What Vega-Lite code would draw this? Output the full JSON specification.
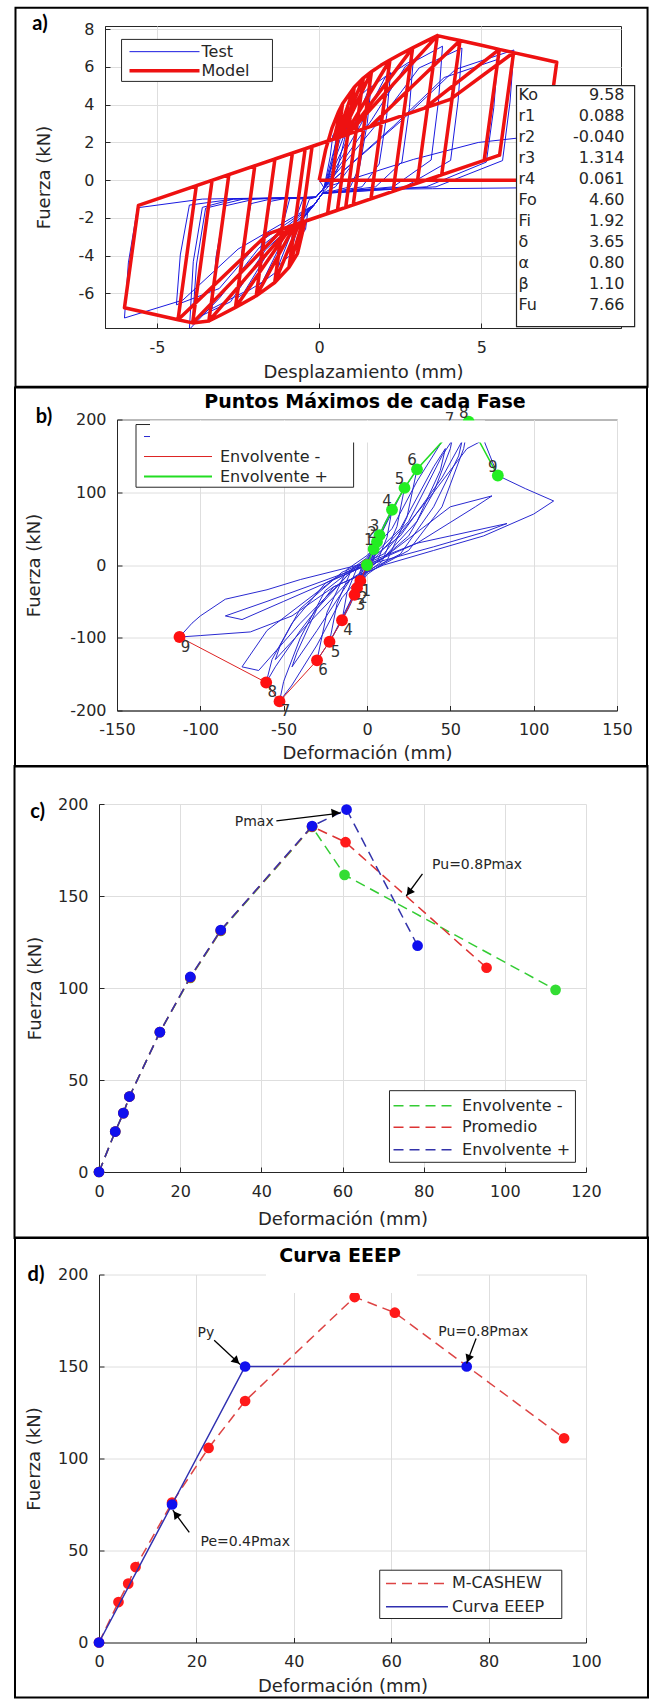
{
  "$schema": "https://vega.github.io/schema/vega-lite/v6.json",
  "background": "white",
  "padding": {"left": 12, "top": 6, "right": 1, "bottom": 1},
  "spacing": -3.5,
  "bounds": "full",
  "config": {
    "font": "DejaVu Sans",
    "view": {"stroke": null},
    "axis": {"labelFont": "DejaVu Sans", "titleFont": "DejaVu Sans", "labelFontSize": 16, "titleFontSize": 18, "titleFontWeight": "normal", "labelColor": "#262626", "titleColor": "#262626", "domainColor": "#262626", "tickColor": "#262626", "gridColor": "#dedede", "tickSize": -5, "labelPadding": 16, "labelFlush": false, "labelOverlap": false, "labelBound": false, "grid": true},
    "text": {"font": "DejaVu Sans"}
  },
  "datasets": {
    "a_test": [
      {"x":0,"y":0},
      {"x":0.15,"y":-0.4},{"x":0.34,"y":1.26},{"x":0.42,"y":2.38},{"x":0.6,"y":2.8},{"x":0.48,"y":1.68},{"x":0.3,"y":0.2},{"x":0.1,"y":-0.7},{"x":-0.15,"y":-1.3},{"x":-0.34,"y":-1.5},{"x":-0.42,"y":-2.61},{"x":-0.6,"y":-3.0},{"x":-0.48,"y":-1.8},{"x":-0.3,"y":-1.0},{"x":-0.1,"y":-0.9},
      {"x":0.15,"y":-0.4},{"x":0.46,"y":1.62},{"x":0.63,"y":3.06},{"x":0.9,"y":3.6},{"x":0.78,"y":2.16},{"x":0.55,"y":0.54},{"x":0.3,"y":-0.3},{"x":0.1,"y":-0.7},{"x":-0.15,"y":-1.3},{"x":-0.46,"y":-1.9},{"x":-0.63,"y":-3.31},{"x":-0.9,"y":-3.8},{"x":-0.78,"y":-2.28},{"x":-0.5,"y":-1.0},{"x":-0.1,"y":-0.9},
      {"x":0.15,"y":-0.4},{"x":0.62,"y":2.03},{"x":0.91,"y":3.83},{"x":1.3,"y":4.5},{"x":1.18,"y":2.7},{"x":0.95,"y":0.68},{"x":0.5,"y":-0.35},{"x":0.1,"y":-0.7},{"x":-0.15,"y":-1.3},{"x":-0.62,"y":-2.3},{"x":-0.91,"y":-4.0},{"x":-1.3,"y":-4.6},{"x":-1.18,"y":-2.76},{"x":-0.9,"y":-0.92},{"x":-0.6,"y":-1.0},{"x":-0.1,"y":-0.9},
      {"x":0.15,"y":-0.4},{"x":0.74,"y":2.25},{"x":1.12,"y":4.25},{"x":1.6,"y":5.0},{"x":1.48,"y":3.0},{"x":1.25,"y":0.75},{"x":0.96,"y":-0.35},{"x":0.1,"y":-0.7},{"x":-0.15,"y":-1.3},{"x":-0.86,"y":-2.8},{"x":-1.33,"y":-4.87},{"x":-1.9,"y":-5.6},{"x":-1.78,"y":-3.36},{"x":-1.5,"y":-1.12},{"x":-1.14,"y":-1.0},{"x":-0.1,"y":-0.9},
      {"x":0.15,"y":-0.4},{"x":0.98,"y":2.57},{"x":1.54,"y":4.85},{"x":2.2,"y":5.7},{"x":2.08,"y":3.42},{"x":1.85,"y":0.86},{"x":1.32,"y":-0.35},{"x":0.1,"y":-0.7},{"x":-0.15,"y":-1.3},{"x":-1.1,"y":-3.1},{"x":-1.75,"y":-5.39},{"x":-2.5,"y":-6.2},{"x":-2.38,"y":-3.72},{"x":-2.1,"y":-1.24},{"x":-1.5,"y":-1.0},{"x":-0.1,"y":-0.9},
      {"x":0.15,"y":-0.4},{"x":1.26,"y":2.88},{"x":2.03,"y":5.44},{"x":2.9,"y":6.4},{"x":2.78,"y":3.84},{"x":2.55,"y":0.96},{"x":1.74,"y":-0.35},{"x":0.1,"y":-0.7},{"x":-0.15,"y":-1.3},{"x":-1.42,"y":-3.4},{"x":-2.31,"y":-5.92},{"x":-3.3,"y":-6.8},{"x":-3.18,"y":-4.08},{"x":-2.9,"y":-1.36},{"x":-1.98,"y":-1.0},{"x":-0.1,"y":-0.9},
      {"x":0.15,"y":-0.4},{"x":1.62,"y":3.2},{"x":2.66,"y":6.04},{"x":3.8,"y":7.1},{"x":3.68,"y":4.26},{"x":3.45,"y":1.07},{"x":2.28,"y":-0.35},{"x":0.1,"y":-0.7},{"x":-0.15,"y":-1.3},{"x":-1.66,"y":-3.7},{"x":-2.73,"y":-6.44},{"x":-3.9,"y":-7.4},{"x":-3.78,"y":-4.44},{"x":-3.5,"y":-1.48},{"x":-2.34,"y":-1.0},{"x":-0.1,"y":-0.9},
      {"x":0.15,"y":-0.4},{"x":1.86,"y":3.15},{"x":3.08,"y":5.95},{"x":4.4,"y":7.0},{"x":4.28,"y":4.2},{"x":4.05,"y":1.05},{"x":2.64,"y":-0.35},{"x":0.1,"y":-0.7},{"x":-0.15,"y":-1.3},{"x":-1.86,"y":-3.6},{"x":-3.08,"y":-6.26},{"x":-4.0,"y":-7.9},{"x":-3.88,"y":-4.32},{"x":-3.6,"y":-1.44},{"x":-2.64,"y":-1.0},{"x":-0.1,"y":-0.9},
      {"x":0.15,"y":-0.4},{"x":2.3,"y":2.88},{"x":3.85,"y":5.44},{"x":5.5,"y":6.4},{"x":5.38,"y":3.84},{"x":5.15,"y":0.96},{"x":3.3,"y":-0.35},{"x":0.1,"y":-0.7},{"x":-0.15,"y":-1.3},{"x":-1.86,"y":-3.3},{"x":-3.08,"y":-5.74},{"x":-4.4,"y":-6.6},{"x":-4.28,"y":-3.96},{"x":-4.0,"y":-1.32},{"x":-2.64,"y":-1.0},{"x":-0.1,"y":-0.9},
      {"x":0.15,"y":-0.4},{"x":2.5,"y":3.1},{"x":4.2,"y":5.87},{"x":6.0,"y":6.9},{"x":5.88,"y":4.14},{"x":5.65,"y":1.04},{"x":3.6,"y":-0.35},{"x":0.1,"y":-0.7},{"x":-0.15,"y":-1.3},{"x":-2.5,"y":-3.65},{"x":-4.2,"y":-6.35},{"x":-6.0,"y":-7.3},{"x":-5.88,"y":-4.38},{"x":-5.6,"y":-1.46},{"x":-3.6,"y":-1.0},{"x":-0.1,"y":-0.9},
      {"x":0.15,"y":-0.4},{"x":2.9,"y":1.1},{"x":4.9,"y":2.0},{"x":7.0,"y":2.4},{"x":6.9,"y":0.8},{"x":6.6,"y":-0.4},{"x":3.5,"y":-0.45},{"x":1.0,"y":-0.5}
    ],
    "a_model": [
      {"x":0,"y":0},{"x":0.2,"y":1.62},{"x":0.4,"y":2.79},{"x":0.6,"y":3.64},{"x":0.72,"y":4.05},
      {"x":0.258,"y":-1.77},{"x":-0.436,"y":-2.175},{"x":-0.67,"y":-3.89},{"x":-0.219,"y":1.79},
      {"x":0.451,"y":2.18},{"x":0.72,"y":4.05},{"x":1.08,"y":4.93},{"x":0.562,"y":-1.592},{"x":-0.436,"y":-2.175},{"x":-0.67,"y":-3.89},{"x":-0.93,"y":-4.61},{"x":-0.431,"y":1.668},
      {"x":0.543,"y":2.237},{"x":1.08,"y":4.93},{"x":1.36,"y":5.41},{"x":0.816,"y":-1.444},{"x":-0.505,"y":-2.215},{"x":-0.93,"y":-4.61},{"x":-1.37,"y":-5.42},{"x":-0.825,"y":1.438},
      {"x":0.606,"y":2.274},{"x":1.36,"y":5.41},{"x":1.61,"y":5.75},{"x":1.049,"y":-1.307},{"x":-0.611,"y":-2.277},{"x":-1.37,"y":-5.42},{"x":-1.94,"y":-6.125},{"x":-1.364,"y":1.123},
      {"x":0.664,"y":2.308},{"x":1.61,"y":5.75},{"x":1.9,"y":6.085},{"x":2.18,"y":6.37},{"x":1.596,"y":-0.988},{"x":-0.738,"y":-2.351},{"x":-1.94,"y":-6.125},{"x":-2.58,"y":-6.74},{"x":-1.984,"y":0.761},
      {"x":0.784,"y":2.378},{"x":2.18,"y":6.37},{"x":2.5,"y":6.67},{"x":2.88,"y":7.01},{"x":2.276,"y":-0.591},{"x":-0.851,"y":-2.417},{"x":-2.58,"y":-6.74},{"x":-3.0,"y":-7.115},{"x":-3.4,"y":-7.46},{"x":-2.784,"y":0.294},
      {"x":0.882,"y":2.435},{"x":2.88,"y":7.01},{"x":3.25,"y":7.33},{"x":3.64,"y":7.66},{"x":3.019,"y":-0.157},{"x":-0.89,"y":-2.44},{"x":-3.4,"y":-7.46},{"x":-3.9,"y":-7.56},{"x":-3.3,"y":-0.007},
      {"x":0.883,"y":2.436},{"x":3.64,"y":7.66},{"x":4.0,"y":7.52},{"x":4.34,"y":7.4},{"x":3.775,"y":0.285},{"x":-1.112,"y":-2.569},{"x":-3.9,"y":-7.56},{"x":-4.35,"y":-7.39},{"x":-3.786,"y":-0.291},
      {"x":1.567,"y":2.835},{"x":4.34,"y":7.4},{"x":5.0,"y":7.15},{"x":5.55,"y":6.93},{"x":5.083,"y":1.048},{"x":-1.584,"y":-2.845},{"x":-4.35,"y":-7.39},{"x":-3.786,"y":-0.291},
      {"x":3.247,"y":3.816},{"x":5.55,"y":6.93},{"x":5.99,"y":6.76},{"x":5.558,"y":1.326},{"x":-1.584,"y":-2.845},{"x":-4.35,"y":-7.39},{"x":-5.0,"y":-7.14},{"x":-6.0,"y":-6.76},{"x":-5.569,"y":-1.332},
      {"x":4.039,"y":4.279},{"x":5.99,"y":6.76},{"x":6.6,"y":6.53},{"x":7.32,"y":6.25},{"x":6.824,"y":0},{"x":0,"y":0}
    ],
    "a_params": [
      {"lab":["Ko","r1","r2","r3","r4","Fo","Fi","δ","α","β","Fu"],"val":["9.58","0.088","-0.040","1.314","0.061","4.60","1.92","3.65","0.80","1.10","7.66"]}
    ],
    "b_test": [
      {"x":0,"y":0},
      {"x":1.2,"y":7.7},{"x":2.8,"y":16.5},{"x":4,"y":22},{"x":3.2,"y":11},{"x":1.6,"y":1.1},{"x":0,"y":-2.2},{"x":-1.2,"y":-7.7},{"x":-2.8,"y":-16.5},{"x":-4,"y":-22},{"x":-3.2,"y":-11},{"x":-1.6,"y":-1.1},{"x":0,"y":2.2},
      {"x":1.8,"y":11},{"x":4.2,"y":24},{"x":6,"y":32},{"x":4.8,"y":16},{"x":2.4,"y":1.6},{"x":0,"y":-3.2},{"x":-1.8,"y":-11},{"x":-4.2,"y":-24},{"x":-6,"y":-32},{"x":-4.8,"y":-16},{"x":-2.4,"y":-1.6},{"x":0,"y":3.2},
      {"x":2.2,"y":14},{"x":5.2,"y":31},{"x":7.5,"y":41},{"x":6,"y":20},{"x":3,"y":2},{"x":0,"y":-4},{"x":-2.2,"y":-14},{"x":-5.2,"y":-31},{"x":-7.5,"y":-41},{"x":-6,"y":-20},{"x":-3,"y":-2},{"x":0,"y":4},
      {"x":4.5,"y":26},{"x":10.5,"y":57},{"x":15,"y":76},{"x":12,"y":38},{"x":6,"y":4},{"x":0,"y":-7},{"x":-4.5,"y":-26},{"x":-10.5,"y":-57},{"x":-15,"y":-76},{"x":-12,"y":-38},{"x":-6,"y":-4},{"x":0,"y":7},
      {"x":7,"y":36},{"x":16,"y":80},{"x":22.5,"y":106},{"x":18,"y":53},{"x":9,"y":5},{"x":0,"y":-10},{"x":-7,"y":-36},{"x":-16,"y":-80},{"x":-22.5,"y":-105.5},{"x":-18,"y":-53},{"x":-9,"y":-5},{"x":0,"y":10},
      {"x":9,"y":45},{"x":21,"y":100},{"x":30,"y":131.5},{"x":24,"y":66},{"x":12,"y":6},{"x":0,"y":-13},{"x":-9,"y":-45},{"x":-21,"y":-100},{"x":-30,"y":-131},{"x":-24,"y":-65},{"x":-12,"y":-6},{"x":0,"y":13},
      {"x":15,"y":50},{"x":30,"y":115},{"x":45,"y":170},{"x":52.5,"y":188},{"x":50,"y":160},{"x":40,"y":100},{"x":25,"y":40},{"x":10,"y":10},{"x":0,"y":-5},{"x":-15,"y":-45},{"x":-30,"y":-110},{"x":-45,"y":-165},{"x":-52.5,"y":-187.5},{"x":-50,"y":-160},{"x":-40,"y":-100},{"x":-25,"y":-35},{"x":-10,"y":-8},{"x":0,"y":5},
      {"x":20,"y":50},{"x":40,"y":135},{"x":47,"y":160},{"x":44,"y":130},{"x":30,"y":60},{"x":10,"y":10},{"x":-10,"y":-20},{"x":-30,"y":-90},{"x":-45,"y":-140},{"x":-42,"y":-120},{"x":-30,"y":-60},{"x":-10,"y":-10},{"x":5,"y":10},
      {"x":25,"y":60},{"x":45,"y":150},{"x":55,"y":185},{"x":61,"y":197},{"x":58,"y":160},{"x":45,"y":80},{"x":25,"y":20},{"x":5,"y":-5},{"x":-20,"y":-30},{"x":-40,"y":-90},{"x":-55,"y":-140},{"x":-60.5,"y":-161.5},{"x":-57,"y":-130},{"x":-45,"y":-80},{"x":-25,"y":-25},{"x":0,"y":5},
      {"x":20,"y":40},{"x":45,"y":120},{"x":57,"y":170},{"x":55,"y":150},{"x":40,"y":80},{"x":20,"y":15},{"x":-10,"y":-20},{"x":-35,"y":-80},{"x":-55,"y":-130},{"x":-52,"y":-110},{"x":-40,"y":-60},{"x":-15,"y":-10},{"x":10,"y":15},
      {"x":40,"y":100},{"x":60,"y":160},{"x":70,"y":172},{"x":78.5,"y":123},{"x":95,"y":105},{"x":112,"y":88},{"x":100,"y":70},{"x":70,"y":40},{"x":40,"y":20},{"x":10,"y":0},{"x":-20,"y":-30},{"x":-45,"y":-70},{"x":-70,"y":-92},{"x":-100,"y":-97},{"x":-112.5,"y":-99},{"x":-105,"y":-80},{"x":-100,"y":-70},{"x":-85,"y":-47},{"x":-60,"y":-34},{"x":-40,"y":-20},{"x":0,"y":3},
      {"x":30,"y":30},{"x":60,"y":45},{"x":84,"y":57},{"x":70,"y":45},{"x":40,"y":25},{"x":0,"y":0},{"x":-30,"y":-25},{"x":-60,"y":-50},{"x":-85,"y":-70},{"x":-75,"y":-75},{"x":-50,"y":-50},{"x":-20,"y":-20},{"x":10,"y":10},
      {"x":50,"y":80},{"x":75,"y":95},{"x":65,"y":80},{"x":30,"y":30},{"x":-20,"y":-20},{"x":-60,"y":-90},{"x":-75,"y":-140},{"x":-65,"y":-145},{"x":-40,"y":-80},{"x":-10,"y":-10},{"x":0,"y":0}
    ],
    "b_envp": [
      {"x":0,"y":0,"n":""},{"x":4,"y":22,"n":"1"},{"x":6,"y":32,"n":"2"},{"x":7.5,"y":41,"n":"3"},{"x":15,"y":76,"n":"4"},{"x":22.5,"y":106,"n":"5"},{"x":30,"y":131.5,"n":"6"},{"x":52.5,"y":188,"n":"7"},{"x":61,"y":197,"n":"8"},{"x":78.5,"y":123,"n":"9"}
    ],
    "b_envm": [
      {"x":0,"y":0,"n":""},{"x":-4,"y":-22,"n":"1"},{"x":-6,"y":-32,"n":"2"},{"x":-7.5,"y":-41,"n":"3"},{"x":-15,"y":-76,"n":"4"},{"x":-22.5,"y":-105.5,"n":"5"},{"x":-30,"y":-131,"n":"6"},{"x":-52.5,"y":-187.5,"n":"7"},{"x":-60.5,"y":-161.5,"n":"8"},{"x":-112.5,"y":-99,"n":"9"}
    ],
    "c_envm": [
      {"x":0,"y":0},{"x":4,"y":22},{"x":6,"y":32},{"x":7.5,"y":41},{"x":15,"y":76},{"x":22.5,"y":105.5},{"x":30,"y":131},{"x":52.5,"y":187.5},{"x":60.5,"y":161.5},{"x":112.5,"y":99}
    ],
    "c_prom": [
      {"x":0,"y":0},{"x":4,"y":22},{"x":6,"y":32},{"x":7.5,"y":41},{"x":15,"y":76},{"x":22.5,"y":105.75},{"x":30,"y":131.25},{"x":52.5,"y":187.75},{"x":60.75,"y":179.25},{"x":95.5,"y":111}
    ],
    "c_envp": [
      {"x":0,"y":0},{"x":4,"y":22},{"x":6,"y":32},{"x":7.5,"y":41},{"x":15,"y":76},{"x":22.5,"y":106},{"x":30,"y":131.5},{"x":52.5,"y":188},{"x":61,"y":197},{"x":78.5,"y":123}
    ],
    "d_mc": [
      {"x":0,"y":0},{"x":4,"y":22},{"x":6,"y":32},{"x":7.5,"y":41},{"x":15,"y":76},{"x":22.5,"y":105.75},{"x":30,"y":131.25},{"x":52.5,"y":187.75},{"x":60.75,"y":179.25},{"x":95.5,"y":111}
    ],
    "d_eeep": [
      {"x":0,"y":0},{"x":15,"y":75},{"x":30,"y":150},{"x":75.5,"y":150}
    ]
  },
  "vconcat": [
    {"spacing": 0, "hconcat": [
      {"width": 1, "height": 1, "data": {"values": []}, "mark": "point", "encoding": {}},
      {
      "width": 516,
      "height": 302,
      "view": {"stroke": "#262626"},
      "layer": [
        {"data": {"name": "a_test"}, "mark": {"type": "line", "color": "#1a1ae0", "strokeWidth": 1, "clip": true},
         "encoding": {
           "x": {"field": "x", "type": "quantitative", "scale": {"domain": [-6.6, 9.3], "domainRaw": {"expr": "[-6.6, 9.3]"}, "nice": false, "zero": false}, "axis": {"title": "Desplazamiento (mm)", "values": [-5, 0, 5], "labelExpr": "''+datum.value", "titlePadding": 8}},
           "y": {"field": "y", "type": "quantitative", "scale": {"domain": [-7.83, 8.17], "domainRaw": {"expr": "[-7.83, 8.17]"}, "nice": false, "zero": false}, "axis": {"title": "Fuerza (kN)", "values": [-6, -4, -2, 0, 2, 4, 6, 8], "labelExpr": "''+datum.value", "titlePadding": 25}},
           "order": {"value": null}}},
        {"data": {"name": "a_model"}, "mark": {"type": "line", "color": "#ee1111", "strokeWidth": 3.5, "strokeJoin": "round", "clip": true},
         "encoding": {"x": {"field": "x", "type": "quantitative"}, "y": {"field": "y", "type": "quantitative"}, "order": {"value": null}}},
        {"data": {"values": [{}]}, "mark": {"type": "rect", "fill": "white", "stroke": "#262626", "strokeWidth": 1},
         "encoding": {"x": {"datum": -6.09}, "x2": {"datum": -1.44}, "y": {"datum": 7.46}, "y2": {"datum": 5.235}}},
        {"data": {"values": [{}]}, "mark": {"type": "rule", "color": "#1a1ae0", "strokeWidth": 1},
         "encoding": {"x": {"datum": -5.845}, "x2": {"datum": -3.688}, "y": {"datum": 6.81}}},
        {"data": {"values": [{}]}, "mark": {"type": "rule", "color": "#ee1111", "strokeWidth": 3.5},
         "encoding": {"x": {"datum": -5.845}, "x2": {"datum": -3.688}, "y": {"datum": 5.8}}},
        {"data": {"values": [{"t": "Test"}]}, "mark": {"type": "text", "align": "left", "baseline": "middle", "fontSize": 16, "color": "#262626"},
         "encoding": {"x": {"datum": -3.626}, "y": {"datum": 6.81}, "text": {"field": "t"}}},
        {"data": {"values": [{"t": "Model"}]}, "mark": {"type": "text", "align": "left", "baseline": "middle", "fontSize": 16, "color": "#262626"},
         "encoding": {"x": {"datum": -3.626}, "y": {"datum": 5.8}, "text": {"field": "t"}}},
        {"data": {"values": [{}]}, "mark": {"type": "rect", "fill": "white", "stroke": "#262626", "strokeWidth": 1.2},
         "encoding": {"x": {"datum": 6.08}, "x2": {"datum": 9.72}, "y": {"datum": 5.007}, "y2": {"datum": -7.76}}},
        {"data": {"name": "a_params"}, "mark": {"type": "text", "align": "left", "baseline": "alphabetic", "fontSize": 16, "lineHeight": 21, "color": "#262626"},
         "encoding": {"x": {"datum": 6.14}, "y": {"datum": 4.228}, "text": {"field": "lab", "type": "nominal"}}},
        {"data": {"name": "a_params"}, "mark": {"type": "text", "align": "right", "baseline": "alphabetic", "fontSize": 16, "lineHeight": 21, "color": "#262626"},
         "encoding": {"x": {"datum": 9.409}, "y": {"datum": 4.228}, "text": {"field": "val", "type": "nominal"}}},
        {"data": {"values": [{"t": "a)"}]}, "mark": {"type": "text", "align": "center", "baseline": "middle", "fontSize": 20, "font": "Lato", "fontWeight": "bold", "color": "#000"},
         "encoding": {"x": {"datum": -8.603}, "y": {"datum": 8.29}, "text": {"field": "t"}}},
        {"data": {"values": [{}]}, "mark": {"type": "rect", "filled": false, "stroke": "#000", "strokeWidth": 2},
         "encoding": {"x": {"datum": -9.358}, "x2": {"datum": 10.118}, "y": {"datum": 9.14}, "y2": {"datum": -10.94}}}
      ]
    }]},
    {"spacing": 0, "hconcat": [
      {"width": 1, "height": 1, "data": {"values": []}, "mark": "point", "encoding": {}},
      {
      "width": 500,
      "height": 291,
      "view": {"stroke": "#262626"},
      "layer": [
        {"data": {"name": "b_test"}, "mark": {"type": "line", "color": "#2a2ad0", "strokeWidth": 1, "clip": true},
         "encoding": {
           "x": {"field": "x", "type": "quantitative", "scale": {"domain": [-150, 150], "domainRaw": {"expr": "[-150, 150]"}, "nice": false, "zero": false}, "axis": {"title": "Deformación (mm)", "values": [-150, -100, -50, 0, 50, 100, 150], "labelExpr": "''+datum.value", "titlePadding": 7}},
           "y": {"field": "y", "type": "quantitative", "scale": {"domain": [-200, 200], "domainRaw": {"expr": "[-200, 200]"}, "nice": false, "zero": false}, "axis": {"title": "Fuerza (kN)", "values": [-200, -150, -100, -50, 0, 50, 100, 150, 200], "labelExpr": "''+datum.value", "titlePadding": 26}},
           "order": {"value": null}}},
        {"data": {"name": "b_envm"}, "mark": {"type": "line", "color": "#dd2222", "strokeWidth": 1},
         "encoding": {"x": {"field": "x", "type": "quantitative"}, "y": {"field": "y", "type": "quantitative"}, "order": {"value": null}}},
        {"data": {"name": "b_envp"}, "mark": {"type": "line", "color": "#22dd22", "strokeWidth": 1.5},
         "encoding": {"x": {"field": "x", "type": "quantitative"}, "y": {"field": "y", "type": "quantitative"}, "order": {"value": null}}},
        {"data": {"name": "b_envm"}, "mark": {"type": "circle", "color": "#ff1010", "size": 140, "opacity": 1},
         "encoding": {"x": {"field": "x", "type": "quantitative"}, "y": {"field": "y", "type": "quantitative"}}},
        {"data": {"name": "b_envp"}, "mark": {"type": "circle", "color": "#22ee22", "size": 140, "opacity": 1},
         "encoding": {"x": {"field": "x", "type": "quantitative"}, "y": {"field": "y", "type": "quantitative"}}},
        {"data": {"name": "b_envm"}, "mark": {"type": "text", "dx": 6, "dy": 10, "fontSize": 15, "color": "#333333"},
         "encoding": {"x": {"field": "x", "type": "quantitative"}, "y": {"field": "y", "type": "quantitative"}, "text": {"field": "n"}}},
        {"data": {"name": "b_envp"}, "mark": {"type": "text", "dx": -5, "dy": -9, "fontSize": 15, "color": "#333333"},
         "encoding": {"x": {"field": "x", "type": "quantitative"}, "y": {"field": "y", "type": "quantitative"}, "text": {"field": "n"}}},
        {"data": {"values": [{}]}, "mark": {"type": "rect", "fill": "white", "stroke": "#262626", "strokeWidth": 1},
         "encoding": {"x": {"datum": -138.6}, "x2": {"datum": -8.04}, "y": {"datum": 193.1}, "y2": {"datum": 106.9}}},
        {"data": {"values": [{}]}, "mark": {"type": "rule", "color": "#2a2ad0", "strokeWidth": 1},
         "encoding": {"x": {"datum": -133.8}, "x2": {"datum": -93}, "y": {"datum": 176.6}}},
        {"data": {"values": [{}]}, "mark": {"type": "rule", "color": "#dd2222", "strokeWidth": 1},
         "encoding": {"x": {"datum": -133.8}, "x2": {"datum": -93}, "y": {"datum": 149.1}}},
        {"data": {"values": [{}]}, "mark": {"type": "rule", "color": "#22dd22", "strokeWidth": 2},
         "encoding": {"x": {"datum": -133.8}, "x2": {"datum": -93}, "y": {"datum": 121.6}}},
        {"data": {"values": [{"t": "Envolvente -"}]}, "mark": {"type": "text", "align": "left", "baseline": "middle", "fontSize": 16, "color": "#262626"},
         "encoding": {"x": {"datum": -88.2}, "y": {"datum": 149.1}, "text": {"field": "t"}}},
        {"data": {"values": [{"t": "Envolvente +"}]}, "mark": {"type": "text", "align": "left", "baseline": "middle", "fontSize": 16, "color": "#262626"},
         "encoding": {"x": {"datum": -88.2}, "y": {"datum": 121.6}, "text": {"field": "t"}}},
        {"data": {"values": [{}]}, "mark": {"type": "rect", "fill": "white", "stroke": null},
         "encoding": {"x": {"datum": -130.2}, "x2": {"datum": 70.8}, "y": {"datum": 198.6}, "y2": {"datum": 168.4}}},
        {"data": {"values": [{"t": "Puntos Máximos de cada Fase"}]}, "mark": {"type": "text", "align": "center", "baseline": "middle", "fontSize": 19, "fontWeight": "bold", "color": "#000"},
         "encoding": {"x": {"datum": -1.2}, "y": {"datum": 223.4}, "text": {"field": "t"}}},
        {"data": {"values": [{"t": "b)"}]}, "mark": {"type": "text", "align": "center", "baseline": "middle", "fontSize": 20, "font": "Lato", "fontWeight": "bold", "color": "#000"},
         "encoding": {"x": {"datum": -193.8}, "y": {"datum": 204.1}, "text": {"field": "t"}}},
        {"data": {"values": [{}]}, "mark": {"type": "rect", "filled": false, "stroke": "#000", "strokeWidth": 2},
         "encoding": {"x": {"datum": -211.2}, "x2": {"datum": 168}, "y": {"datum": 244}, "y2": {"datum": -277}}}
      ]
    }]},
    {"spacing": 0, "hconcat": [
      {"width": 1, "height": 1, "data": {"values": []}, "mark": "point", "encoding": {}},
      {
      "width": 487,
      "height": 368,
      "layer": [
        {"data": {"name": "c_envm"}, "mark": {"type": "line", "color": "#33cc33", "strokeWidth": 1.5, "strokeDash": [10, 6]},
         "encoding": {
           "x": {"field": "x", "type": "quantitative", "scale": {"domain": [0, 120], "domainRaw": {"expr": "[0, 120]"}, "nice": false, "zero": false}, "axis": {"title": "Deformación (mm)", "values": [0, 20, 40, 60, 80, 100, 120], "titlePadding": 11}},
           "y": {"field": "y", "type": "quantitative", "scale": {"domain": [0, 200], "domainRaw": {"expr": "[0, 200]"}, "nice": false, "zero": false}, "axis": {"title": "Fuerza (kN)", "values": [0, 50, 100, 150, 200], "titlePadding": 13}},
           "order": {"value": null}}},
        {"data": {"name": "c_envm"}, "mark": {"type": "circle", "color": "#33dd33", "size": 115, "opacity": 1},
         "encoding": {"x": {"field": "x", "type": "quantitative"}, "y": {"field": "y", "type": "quantitative"}}},
        {"data": {"name": "c_prom"}, "mark": {"type": "line", "color": "#dd3333", "strokeWidth": 1.5, "strokeDash": [10, 6]},
         "encoding": {"x": {"field": "x", "type": "quantitative"}, "y": {"field": "y", "type": "quantitative"}, "order": {"value": null}}},
        {"data": {"name": "c_prom"}, "mark": {"type": "circle", "color": "#ff1a1a", "size": 115, "opacity": 1},
         "encoding": {"x": {"field": "x", "type": "quantitative"}, "y": {"field": "y", "type": "quantitative"}}},
        {"data": {"name": "c_envp"}, "mark": {"type": "line", "color": "#3333aa", "strokeWidth": 1.5, "strokeDash": [10, 6]},
         "encoding": {"x": {"field": "x", "type": "quantitative"}, "y": {"field": "y", "type": "quantitative"}, "order": {"value": null}}},
        {"data": {"name": "c_envp"}, "mark": {"type": "circle", "color": "#1010ee", "size": 115, "opacity": 1},
         "encoding": {"x": {"field": "x", "type": "quantitative"}, "y": {"field": "y", "type": "quantitative"}}},
        {"data": {"values": [{}]}, "mark": {"type": "rect", "fill": "white", "stroke": "#262626", "strokeWidth": 1},
         "encoding": {"x": {"datum": 71.58}, "x2": {"datum": 117.4}, "y": {"datum": 44.2}, "y2": {"datum": 5.27}}},
        {"data": {"values": [{}]}, "mark": {"type": "rule", "color": "#33cc33", "strokeWidth": 1.5, "strokeDash": [10, 6]},
         "encoding": {"x": {"datum": 72.57}, "x2": {"datum": 87.85}, "y": {"datum": 36.03}}},
        {"data": {"values": [{}]}, "mark": {"type": "rule", "color": "#dd3333", "strokeWidth": 1.5, "strokeDash": [10, 6]},
         "encoding": {"x": {"datum": 72.57}, "x2": {"datum": 87.85}, "y": {"datum": 24.29}}},
        {"data": {"values": [{}]}, "mark": {"type": "rule", "color": "#3333aa", "strokeWidth": 1.5, "strokeDash": [10, 6]},
         "encoding": {"x": {"datum": 72.57}, "x2": {"datum": 87.85}, "y": {"datum": 12.12}}},
        {"data": {"values": [{"t": "Envolvente -"}]}, "mark": {"type": "text", "align": "left", "baseline": "middle", "fontSize": 16, "color": "#262626"},
         "encoding": {"x": {"datum": 89.45}, "y": {"datum": 36.03}, "text": {"field": "t"}}},
        {"data": {"values": [{"t": "Promedio"}]}, "mark": {"type": "text", "align": "left", "baseline": "middle", "fontSize": 16, "color": "#262626"},
         "encoding": {"x": {"datum": 89.45}, "y": {"datum": 24.29}, "text": {"field": "t"}}},
        {"data": {"values": [{"t": "Envolvente +"}]}, "mark": {"type": "text", "align": "left", "baseline": "middle", "fontSize": 16, "color": "#262626"},
         "encoding": {"x": {"datum": 89.45}, "y": {"datum": 12.12}, "text": {"field": "t"}}},
        {"data": {"values": [{}]}, "mark": {"type": "rule", "color": "#000", "strokeWidth": 1.3},
         "encoding": {"x": {"datum": 43.7}, "y": {"datum": 190.8}, "x2": {"datum": 59.5}, "y2": {"datum": 195}}},
        {"data": {"values": [{}]}, "mark": {"type": "point", "shape": "triangle-right", "filled": true, "color": "#000", "size": 80, "angle": 352, "opacity": 1},
         "encoding": {"x": {"datum": 58.28}, "y": {"datum": 195.27}}},
        {"data": {"values": [{"t": "Pmax"}]}, "mark": {"type": "text", "align": "center", "baseline": "middle", "fontSize": 14, "color": "#262626"},
         "encoding": {"x": {"datum": 38.24}, "y": {"datum": 190.2}, "text": {"field": "t"}}},
        {"data": {"values": [{}]}, "mark": {"type": "rule", "color": "#000", "strokeWidth": 1.3},
         "encoding": {"x": {"datum": 79.7}, "y": {"datum": 162}, "x2": {"datum": 75.7}, "y2": {"datum": 150}}},
        {"data": {"values": [{}]}, "mark": {"type": "point", "shape": "triangle-right", "filled": true, "color": "#000", "size": 80, "angle": 127, "opacity": 1},
         "encoding": {"x": {"datum": 76.4}, "y": {"datum": 152.0}}},
        {"data": {"values": [{"t": "Pu=0.8Pmax"}]}, "mark": {"type": "text", "align": "center", "baseline": "middle", "fontSize": 14, "color": "#262626"},
         "encoding": {"x": {"datum": 93.16}, "y": {"datum": 166.8}, "text": {"field": "t"}}},
        {"data": {"values": [{"t": "c)"}]}, "mark": {"type": "text", "align": "center", "baseline": "middle", "fontSize": 20, "font": "Lato", "fontWeight": "bold", "color": "#000"},
         "encoding": {"x": {"datum": -15.15}, "y": {"datum": 195.65}, "text": {"field": "t"}}},
        {"data": {"values": [{}]}, "mark": {"type": "rect", "filled": false, "stroke": "#000", "strokeWidth": 2},
         "encoding": {"x": {"datum": -20.82}, "x2": {"datum": 135.15}, "y": {"datum": 220.65}, "y2": {"datum": -35.87}}}
      ]
    }]},
    {"spacing": 0, "hconcat": [
      {"width": 1, "height": 1, "data": {"values": []}, "mark": "point", "encoding": {}},
      {
      "width": 487,
      "height": 368,
      "layer": [
        {"data": {"name": "d_mc"}, "mark": {"type": "line", "color": "#dd4444", "strokeWidth": 1.5, "strokeDash": [10, 6]},
         "encoding": {
           "x": {"field": "x", "type": "quantitative", "scale": {"domain": [0, 100], "domainRaw": {"expr": "[0, 100]"}, "nice": false, "zero": false}, "axis": {"title": "Deformación (mm)", "values": [0, 20, 40, 60, 80, 100], "titlePadding": 8}},
           "y": {"field": "y", "type": "quantitative", "scale": {"domain": [0, 200], "domainRaw": {"expr": "[0, 200]"}, "nice": false, "zero": false}, "axis": {"title": "Fuerza (kN)", "values": [0, 50, 100, 150, 200], "titlePadding": 14}},
           "order": {"value": null}}},
        {"data": {"name": "d_mc"}, "mark": {"type": "circle", "color": "#ff1a1a", "size": 115, "opacity": 1},
         "encoding": {"x": {"field": "x", "type": "quantitative"}, "y": {"field": "y", "type": "quantitative"}}},
        {"data": {"values": [{}]}, "mark": {"type": "rect", "fill": "white", "stroke": null},
         "encoding": {"x": {"datum": 34.3}, "x2": {"datum": 65.3}, "y": {"datum": 201}, "y2": {"datum": 190}}},
        {"data": {"name": "d_eeep"}, "mark": {"type": "line", "color": "#3030b0", "strokeWidth": 1.5},
         "encoding": {"x": {"field": "x", "type": "quantitative"}, "y": {"field": "y", "type": "quantitative"}, "order": {"value": null}}},
        {"data": {"name": "d_eeep"}, "mark": {"type": "circle", "color": "#1010ee", "size": 115, "opacity": 1},
         "encoding": {"x": {"field": "x", "type": "quantitative"}, "y": {"field": "y", "type": "quantitative"}}},
        {"data": {"values": [{}]}, "mark": {"type": "rect", "fill": "white", "stroke": "#262626", "strokeWidth": 1},
         "encoding": {"x": {"datum": 57.64}, "x2": {"datum": 95.03}, "y": {"datum": 39.29}, "y2": {"datum": 13.04}}},
        {"data": {"values": [{}]}, "mark": {"type": "rule", "color": "#dd4444", "strokeWidth": 1.5, "strokeDash": [10, 6]},
         "encoding": {"x": {"datum": 58.93}, "x2": {"datum": 71.66}, "y": {"datum": 32.07}}},
        {"data": {"values": [{}]}, "mark": {"type": "rule", "color": "#3030b0", "strokeWidth": 1.5},
         "encoding": {"x": {"datum": 58.93}, "x2": {"datum": 71.66}, "y": {"datum": 19.4}}},
        {"data": {"values": [{"t": "M-CASHEW"}]}, "mark": {"type": "text", "align": "left", "baseline": "middle", "fontSize": 16, "color": "#262626"},
         "encoding": {"x": {"datum": 72.48}, "y": {"datum": 32.07}, "text": {"field": "t"}}},
        {"data": {"values": [{"t": "Curva EEEP"}]}, "mark": {"type": "text", "align": "left", "baseline": "middle", "fontSize": 16, "color": "#262626"},
         "encoding": {"x": {"datum": 72.48}, "y": {"datum": 19.4}, "text": {"field": "t"}}},
        {"data": {"values": [{}]}, "mark": {"type": "rule", "color": "#000", "strokeWidth": 1.3},
         "encoding": {"x": {"datum": 23.65}, "y": {"datum": 164.3}, "x2": {"datum": 28.99}, "y2": {"datum": 151.1}}},
        {"data": {"values": [{}]}, "mark": {"type": "point", "shape": "triangle-right", "filled": true, "color": "#000", "size": 80, "angle": 43, "opacity": 1},
         "encoding": {"x": {"datum": 28.23}, "y": {"datum": 152.9}}},
        {"data": {"values": [{"t": "Py"}]}, "mark": {"type": "text", "align": "center", "baseline": "middle", "fontSize": 14, "color": "#262626"},
         "encoding": {"x": {"datum": 21.95}, "y": {"datum": 168.3}, "text": {"field": "t"}}},
        {"data": {"values": [{}]}, "mark": {"type": "rule", "color": "#000", "strokeWidth": 1.3},
         "encoding": {"x": {"datum": 77.43}, "y": {"datum": 165.2}, "x2": {"datum": 75.48}, "y2": {"datum": 151.6}}},
        {"data": {"values": [{}]}, "mark": {"type": "point", "shape": "triangle-right", "filled": true, "color": "#000", "size": 80, "angle": 111, "opacity": 1},
         "encoding": {"x": {"datum": 75.85}, "y": {"datum": 154.2}}},
        {"data": {"values": [{"t": "Pu=0.8Pmax"}]}, "mark": {"type": "text", "align": "center", "baseline": "middle", "fontSize": 14, "color": "#262626"},
         "encoding": {"x": {"datum": 78.9}, "y": {"datum": 168.9}, "text": {"field": "t"}}},
        {"data": {"values": [{}]}, "mark": {"type": "rule", "color": "#000", "strokeWidth": 1.3},
         "encoding": {"x": {"datum": 18.54}, "y": {"datum": 59.8}, "x2": {"datum": 15.15}, "y2": {"datum": 71.9}}},
        {"data": {"values": [{}]}, "mark": {"type": "point", "shape": "triangle-right", "filled": true, "color": "#000", "size": 80, "angle": 233.5, "opacity": 1},
         "encoding": {"x": {"datum": 15.77}, "y": {"datum": 69.7}}},
        {"data": {"values": [{"t": "Pe=0.4Pmax"}]}, "mark": {"type": "text", "align": "center", "baseline": "middle", "fontSize": 14, "color": "#262626"},
         "encoding": {"x": {"datum": 30.02}, "y": {"datum": 54.35}, "text": {"field": "t"}}},
        {"data": {"values": [{"t": "Curva EEEP"}]}, "mark": {"type": "text", "align": "center", "baseline": "middle", "fontSize": 19, "fontWeight": "bold", "color": "#000"},
         "encoding": {"x": {"datum": 49.5}, "y": {"datum": 209.8}, "text": {"field": "t"}}},
        {"data": {"values": [{"t": "d)"}]}, "mark": {"type": "text", "align": "center", "baseline": "middle", "fontSize": 20, "font": "Lato", "fontWeight": "bold", "color": "#000"},
         "encoding": {"x": {"datum": -12.94}, "y": {"datum": 199.46}, "text": {"field": "t"}}},
        {"data": {"values": [{}]}, "mark": {"type": "rect", "filled": false, "stroke": "#000", "strokeWidth": 2},
         "encoding": {"x": {"datum": -17.25}, "x2": {"datum": 112.73}, "y": {"datum": 220.1}, "y2": {"datum": -29.9}}}
      ]
    }]}
  ]
}
